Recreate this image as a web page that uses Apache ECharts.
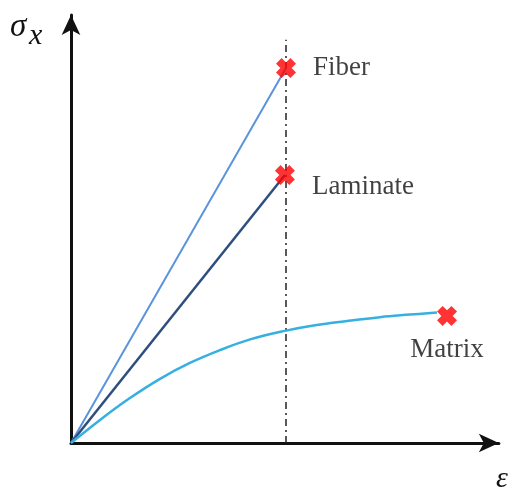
<!DOCTYPE html>
<html>
<head>
<meta charset="utf-8">
<script src="https://cdn.jsdelivr.net/npm/echarts@6/dist/echarts.min.js"></script>
<style>
  html, body { margin: 0; padding: 0; background: #fff; }
  #main { width: 510px; height: 488px; }
</style>
</head>
<body>
<div id="main"></div>
<script>
  // strain (x) / stress (y) in arbitrary units
  var failureStrain = 100;
  var fiberLine = [[0, 0], [100, 87.6]];
  var laminateLine = [[0, 0], [99.5, 62.6]];
  var matrixCurve = [[0, 0], [13.5, 5.4], [27.4, 10.5], [41.4, 15.0], [55.3, 18.7],
    [69.3, 21.7], [83.3, 24.2], [99.5, 26.2], [113.5, 27.5], [128.4, 28.5],
    [143.7, 29.4], [157.7, 30.0], [170.2, 30.5]];
  var failurePoints = [
    {name: 'Fiber', value: [100, 87.6]},
    {name: 'Laminate', value: [99.5, 62.6]},
    {name: 'Matrix', value: [174.9, 29.7]}
  ];
  var guideTop = 94.2;

  var serif = '"Liberation Serif", "Times New Roman", serif';
  var cross = 'path://M0,2.8L2.8,0L5,2.2L7.2,0L10,2.8L7.8,5L10,7.2L7.2,10L5,7.8L2.8,10L0,7.2L2.2,5Z';

  var myChart = echarts.init(document.getElementById('main'));
  myChart.setOption({
    animation: false,
    grid: {left: 71, right: 11.15, top: 15, bottom: 45},
    xAxis: {
      type: 'value', min: 0, max: 199,
      axisLine: {show: true, symbol: ['none', 'arrow'], symbolSize: [14, 20],
        lineStyle: {color: '#111', width: 3}},
      axisTick: {show: false}, axisLabel: {show: false}, splitLine: {show: false}
    },
    yAxis: {
      type: 'value', min: 0, max: 100,
      axisLine: {show: true, symbol: ['none', 'arrow'], symbolSize: [14, 20],
        lineStyle: {color: '#111', width: 3}},
      axisTick: {show: false}, axisLabel: {show: false}, splitLine: {show: false}
    },
    graphic: [
      {type: 'text', left: 10, top: 11, style: {text: 'σ', font: 'italic 33px ' + serif, fill: '#111'}},
      {type: 'text', left: 29, top: 21, style: {text: 'x', font: 'italic 30px ' + serif, fill: '#111'}},
      {type: 'text', left: 496, top: 464, style: {text: 'ε', font: 'italic 30px ' + serif, fill: '#111'}}
    ],
    series: [
      {
        name: 'guide', type: 'line', symbol: 'none', silent: true,
        data: [[failureStrain, 0], [failureStrain, guideTop]],
        lineStyle: {color: '#222', width: 1.5, type: [7, 4, 2, 4]}
      },
      {
        name: 'Fiber', type: 'line', symbol: 'none', data: fiberLine,
        lineStyle: {color: '#5b93dc', width: 2}
      },
      {
        name: 'Laminate', type: 'line', symbol: 'none', data: laminateLine,
        lineStyle: {color: '#2e4f7e', width: 2.5}
      },
      {
        name: 'Matrix', type: 'line', symbol: 'none', smooth: 0.4,
        data: matrixCurve,
        lineStyle: {color: '#35b0e0', width: 2.5}
      },
      {
        name: 'failure', type: 'scatter', symbol: cross, symbolSize: 20, z: 5,
        itemStyle: {color: '#ff0000'},
        data: failurePoints.map(function (p, i) {
          if (i !== 2) return p;
          return {name: p.name, value: p.value,
            label: {position: 'bottom', distance: 11, offset: [-4, 0]}};
        }),
        label: {
          show: true, formatter: '{b}', color: '#111', fontFamily: serif, fontSize: 27,
          position: 'right', distance: 17
        },
        labelLayout: function (params) {
          if (params.dataIndex === 0) return {dy: 0};
          if (params.dataIndex === 1) return {dy: 12};
          return {};
        }
      }
    ]
  });
</script>
</body>
</html>
